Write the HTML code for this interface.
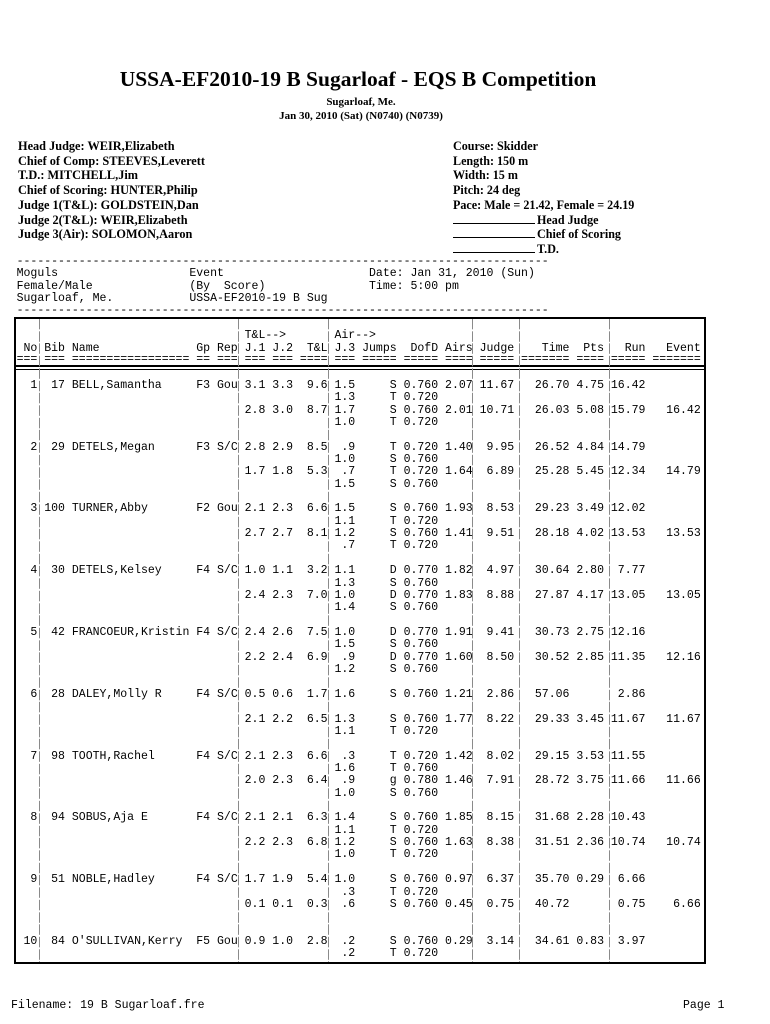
<!DOCTYPE html>
<html><head><meta charset="utf-8">
<style>
*{margin:0;padding:0;box-sizing:border-box}
body{width:770px;height:1024px;background:#fff;position:relative;overflow:hidden;color:#000}
.s{position:absolute;font-family:"Liberation Serif",serif;font-weight:bold;white-space:nowrap}
.m{position:absolute;left:16.6px;font-family:"Liberation Mono",monospace;font-size:11.53px;color:#000}
.l{position:relative;height:12.36px;line-height:12.36px;white-space:pre}
.l span{position:absolute;top:0}
.bar{position:absolute;width:1px;top:319px;height:643px;background:repeating-linear-gradient(to bottom,#8a8a8a 0,#8a8a8a 10.5px,transparent 10.5px,transparent 12.36px);background-position:0 -0.2px}
.blk{position:absolute;background:#000}
.u{display:inline-block;width:82px;border-bottom:1px solid #000;height:10px;margin-right:2px;vertical-align:baseline}
</style></head><body>

<div class="s" style="left:0;width:716px;text-align:center;top:67px;font-size:21.5px;">USSA-EF2010-19 B Sugarloaf - EQS B Competition</div>
<div class="s" style="left:0;width:722px;text-align:center;top:96px;font-size:11px;">Sugarloaf, Me.</div>
<div class="s" style="left:0;width:722px;text-align:center;top:110px;font-size:11px;">Jan 30, 2010 (Sat) (N0740) (N0739)</div>

<div class="s" style="left:18px;top:139px;font-size:12.3px;line-height:14.7px;">Head Judge: WEIR,Elizabeth<br>Chief of Comp: STEEVES,Leverett<br>T.D.: MITCHELL,Jim<br>Chief of Scoring: HUNTER,Philip<br>Judge 1(T&amp;L): GOLDSTEIN,Dan<br>Judge 2(T&amp;L): WEIR,Elizabeth<br>Judge 3(Air): SOLOMON,Aaron</div>
<div class="s" style="left:453px;top:139px;font-size:12.1px;line-height:14.7px;">Course: Skidder<br>Length: 150 m<br>Width: 15 m<br>Pitch: 24 deg<br>Pace: Male = 21.42, Female = 24.19<br><span class="u"></span>Head Judge<br><span class="u"></span>Chief of Scoring<br><span class="u"></span>T.D.</div>

<div class="m" style="top:255.8px">
<div class="l"><span style="left:0">-----------------------------------------------------------------------------</span></div>
<div class="l"><span style="left:0">Moguls</span><span style="left:25ch">Event</span><span style="left:51ch">Date: Jan 31, 2010 (Sun)</span></div>
<div class="l"><span style="left:0">Female/Male</span><span style="left:25ch">(By  Score)</span><span style="left:51ch">Time: 5:00 pm</span></div>
<div class="l"><span style="left:0">Sugarloaf, Me.</span><span style="left:25ch">USSA-EF2010-19 B Sug</span></div>
<div class="l"><span style="left:0">-----------------------------------------------------------------------------</span></div>
</div>

<div class="blk" style="left:14px;top:317px;width:692px;height:2px"></div>
<div class="blk" style="left:14px;top:317px;width:2px;height:647px"></div>
<div class="blk" style="left:704px;top:317px;width:2px;height:647px"></div>
<div class="blk" style="left:14px;top:962px;width:692px;height:2px"></div>
<div class="blk" style="left:14px;top:365px;width:692px;height:2px"></div>
<div class="blk" style="left:14px;top:368.5px;width:692px;height:1px"></div>
<div class="bar" style="left:39px"></div>
<div class="bar" style="left:238px"></div>
<div class="bar" style="left:328px"></div>
<div class="bar" style="left:472px"></div>
<div class="bar" style="left:519px"></div>
<div class="bar" style="left:609px"></div>

<div class="m" style="top:329.8px">
<div class="l"><span style="left:33ch">T&amp;L--&gt;</span><span style="left:46ch">Air--&gt;</span></div>
</div>
<div class="m" style="top:342.8px">
<div class="l"><span style="left:1ch">No</span><span style="left:4ch">Bib</span><span style="left:8ch">Name</span><span style="left:26ch">Gp</span><span style="left:29ch">Rep</span><span style="left:33ch">J.1</span><span style="left:37ch">J.2</span><span style="left:42ch">T&amp;L</span><span style="left:46ch">J.3</span><span style="left:50ch">Jumps</span><span style="left:57ch">DofD</span><span style="left:62ch">Airs</span><span style="left:67ch">Judge</span><span style="left:76ch">Time</span><span style="left:82ch">Pts</span><span style="left:88ch">Run</span><span style="left:94ch">Event</span></div>
</div>
<div class="m" style="top:353.5px">
<div class="l"><span style="left:0">===</span><span style="left:4ch">===</span><span style="left:8ch">=================</span><span style="left:26ch">==</span><span style="left:29ch">===</span><span style="left:33ch">===</span><span style="left:37ch">===</span><span style="left:41ch">====</span><span style="left:46ch">===</span><span style="left:50ch">=====</span><span style="left:56ch">=====</span><span style="left:62ch">====</span><span style="left:67ch">=====</span><span style="left:73ch">=======</span><span style="left:81ch">====</span><span style="left:86ch">=====</span><span style="left:92ch">=======</span></div>
</div>

<div class="m" style="top:379.8px">
<div class="l"><span style="left:0">  1  17 BELL,Samantha</span><span style="left:26ch">F3 Gou 3.1 3.3  9.6 1.5</span><span style="left:54ch">S 0.760 2.07</span><span style="left:67ch">11.67   26.70 4.75 16.42</span></div>
<div class="l"><span style="left:46ch">1.3     T 0.720</span></div>
<div class="l"><span style="left:33ch">2.8 3.0  8.7 1.7     S 0.760 2.01</span><span style="left:67ch">10.71   26.03 5.08 15.79   16.42</span></div>
<div class="l"><span style="left:46ch">1.0     T 0.720</span></div>
<div class="l"> </div>
<div class="l"><span style="left:0">  2  29 DETELS,Megan</span><span style="left:26ch">F3 S/C 2.8 2.9  8.5  .9</span><span style="left:54ch">T 0.720 1.40</span><span style="left:67ch"> 9.95   26.52 4.84 14.79</span></div>
<div class="l"><span style="left:46ch">1.0     S 0.760</span></div>
<div class="l"><span style="left:33ch">1.7 1.8  5.3  .7     T 0.720 1.64</span><span style="left:67ch"> 6.89   25.28 5.45 12.34   14.79</span></div>
<div class="l"><span style="left:46ch">1.5     S 0.760</span></div>
<div class="l"> </div>
<div class="l"><span style="left:0">  3 100 TURNER,Abby</span><span style="left:26ch">F2 Gou 2.1 2.3  6.6 1.5</span><span style="left:54ch">S 0.760 1.93</span><span style="left:67ch"> 8.53   29.23 3.49 12.02</span></div>
<div class="l"><span style="left:46ch">1.1     T 0.720</span></div>
<div class="l"><span style="left:33ch">2.7 2.7  8.1 1.2     S 0.760 1.41</span><span style="left:67ch"> 9.51   28.18 4.02 13.53   13.53</span></div>
<div class="l"><span style="left:46ch"> .7     T 0.720</span></div>
<div class="l"> </div>
<div class="l"><span style="left:0">  4  30 DETELS,Kelsey</span><span style="left:26ch">F4 S/C 1.0 1.1  3.2 1.1</span><span style="left:54ch">D 0.770 1.82</span><span style="left:67ch"> 4.97   30.64 2.80  7.77</span></div>
<div class="l"><span style="left:46ch">1.3     S 0.760</span></div>
<div class="l"><span style="left:33ch">2.4 2.3  7.0 1.0     D 0.770 1.83</span><span style="left:67ch"> 8.88   27.87 4.17 13.05   13.05</span></div>
<div class="l"><span style="left:46ch">1.4     S 0.760</span></div>
<div class="l"> </div>
<div class="l"><span style="left:0">  5  42 FRANCOEUR,Kristin</span><span style="left:26ch">F4 S/C 2.4 2.6  7.5 1.0</span><span style="left:54ch">D 0.770 1.91</span><span style="left:67ch"> 9.41   30.73 2.75 12.16</span></div>
<div class="l"><span style="left:46ch">1.5     S 0.760</span></div>
<div class="l"><span style="left:33ch">2.2 2.4  6.9  .9     D 0.770 1.60</span><span style="left:67ch"> 8.50   30.52 2.85 11.35   12.16</span></div>
<div class="l"><span style="left:46ch">1.2     S 0.760</span></div>
<div class="l"> </div>
<div class="l"><span style="left:0">  6  28 DALEY,Molly R</span><span style="left:26ch">F4 S/C 0.5 0.6  1.7 1.6</span><span style="left:54ch">S 0.760 1.21</span><span style="left:67ch"> 2.86   57.06       2.86</span></div>
<div class="l"> </div>
<div class="l"><span style="left:33ch">2.1 2.2  6.5 1.3     S 0.760 1.77</span><span style="left:67ch"> 8.22   29.33 3.45 11.67   11.67</span></div>
<div class="l"><span style="left:46ch">1.1     T 0.720</span></div>
<div class="l"> </div>
<div class="l"><span style="left:0">  7  98 TOOTH,Rachel</span><span style="left:26ch">F4 S/C 2.1 2.3  6.6  .3</span><span style="left:54ch">T 0.720 1.42</span><span style="left:67ch"> 8.02   29.15 3.53 11.55</span></div>
<div class="l"><span style="left:46ch">1.6     T 0.760</span></div>
<div class="l"><span style="left:33ch">2.0 2.3  6.4  .9     g 0.780 1.46</span><span style="left:67ch"> 7.91   28.72 3.75 11.66   11.66</span></div>
<div class="l"><span style="left:46ch">1.0     S 0.760</span></div>
<div class="l"> </div>
<div class="l"><span style="left:0">  8  94 SOBUS,Aja E</span><span style="left:26ch">F4 S/C 2.1 2.1  6.3 1.4</span><span style="left:54ch">S 0.760 1.85</span><span style="left:67ch"> 8.15   31.68 2.28 10.43</span></div>
<div class="l"><span style="left:46ch">1.1     T 0.720</span></div>
<div class="l"><span style="left:33ch">2.2 2.3  6.8 1.2     S 0.760 1.63</span><span style="left:67ch"> 8.38   31.51 2.36 10.74   10.74</span></div>
<div class="l"><span style="left:46ch">1.0     T 0.720</span></div>
<div class="l"> </div>
<div class="l"><span style="left:0">  9  51 NOBLE,Hadley</span><span style="left:26ch">F4 S/C 1.7 1.9  5.4 1.0</span><span style="left:54ch">S 0.760 0.97</span><span style="left:67ch"> 6.37   35.70 0.29  6.66</span></div>
<div class="l"><span style="left:46ch"> .3     T 0.720</span></div>
<div class="l"><span style="left:33ch">0.1 0.1  0.3  .6     S 0.760 0.45</span><span style="left:67ch"> 0.75   40.72       0.75    6.66</span></div>
<div class="l"> </div>
<div class="l"> </div>
<div class="l"><span style="left:0"> 10  84 O'SULLIVAN,Kerry</span><span style="left:26ch">F5 Gou 0.9 1.0  2.8  .2</span><span style="left:54ch">S 0.760 0.29</span><span style="left:67ch"> 3.14   34.61 0.83  3.97</span></div>
<div class="l"><span style="left:46ch"> .2     T 0.720</span></div>
</div>

<div class="m" style="left:11px;top:999.8px"><div class="l"><span style="left:0">Filename: 19 B Sugarloaf.fre</span></div></div>
<div class="m" style="left:683px;top:999.8px"><div class="l"><span style="left:0">Page 1</span></div></div>

</body></html>
